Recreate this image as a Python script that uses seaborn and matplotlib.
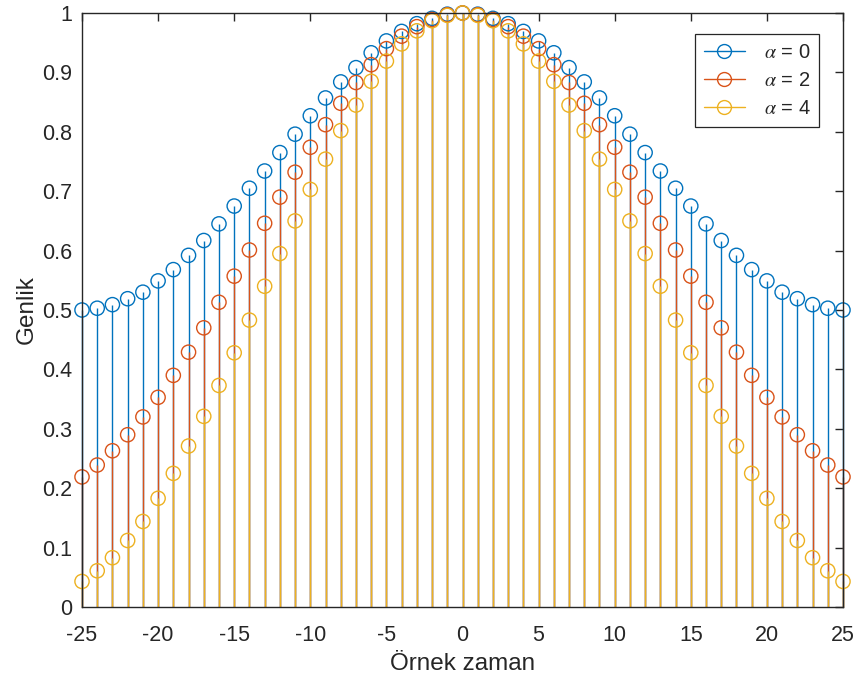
import numpy as np
import pandas as pd
import matplotlib
matplotlib.use("Agg")
import matplotlib.pyplot as plt
from matplotlib.lines import Line2D
from matplotlib.legend_handler import HandlerLine2D
import seaborn as sns

# Sample index
n = list(range(-25, 26))

# Window amplitudes for each alpha
amp_a0 = [0.500, 0.503, 0.509, 0.519, 0.530, 0.549, 0.568, 0.592, 0.617, 0.645,
          0.675, 0.705, 0.734, 0.765, 0.796, 0.827, 0.857, 0.884, 0.908, 0.933,
          0.953, 0.969, 0.982, 0.991, 0.998, 1.000, 0.998, 0.991, 0.982, 0.969,
          0.953, 0.933, 0.908, 0.884, 0.857, 0.827, 0.796, 0.765, 0.734, 0.705,
          0.675, 0.645, 0.617, 0.592, 0.568, 0.549, 0.530, 0.519, 0.509, 0.503,
          0.500]
amp_a2 = [0.219, 0.239, 0.263, 0.290, 0.320, 0.353, 0.390, 0.429, 0.470, 0.513,
          0.557, 0.601, 0.646, 0.690, 0.732, 0.774, 0.812, 0.848, 0.883, 0.913,
          0.940, 0.961, 0.977, 0.989, 0.997, 1.000, 0.997, 0.989, 0.977, 0.961,
          0.940, 0.913, 0.883, 0.848, 0.812, 0.774, 0.732, 0.690, 0.646, 0.601,
          0.557, 0.513, 0.470, 0.429, 0.390, 0.353, 0.320, 0.290, 0.263, 0.239,
          0.219]
amp_a4 = [0.043, 0.061, 0.083, 0.112, 0.144, 0.183, 0.225, 0.271, 0.321, 0.373,
          0.428, 0.483, 0.540, 0.595, 0.650, 0.703, 0.754, 0.802, 0.845, 0.885,
          0.919, 0.948, 0.970, 0.987, 0.996, 1.000, 0.996, 0.987, 0.970, 0.948,
          0.919, 0.885, 0.845, 0.802, 0.754, 0.703, 0.650, 0.595, 0.540, 0.483,
          0.428, 0.373, 0.321, 0.271, 0.225, 0.183, 0.144, 0.112, 0.083, 0.061,
          0.043]

labels = ["$\\alpha$ = 0", "$\\alpha$ = 2", "$\\alpha$ = 4"]
colors = ["#0072BD", "#D95319", "#EDB120"]

x_ticks = list(range(-25, 26, 5))
y_ticks = [0, 0.1, 0.2, 0.3, 0.4, 0.5, 0.6, 0.7, 0.8, 0.9, 1]
y_tick_labels = ["0", "0.1", "0.2", "0.3", "0.4", "0.5", "0.6", "0.7", "0.8", "0.9", "1"]

sns.set_style("white")
plt.rcParams["font.family"] = ["Liberation Sans", "DejaVu Sans"]
plt.rcParams["mathtext.fontset"] = "stix"

fig = plt.figure(figsize=(8.55, 6.84), dpi=100)
ax = fig.add_axes([82 / 855, 1 - 607 / 684, (843 - 82) / 855, (607 - 13) / 684])

series = pd.DataFrame({"n": n, "a0": amp_a0, "a2": amp_a2, "a4": amp_a4})

for col, color in zip(["a0", "a2", "a4"], colors):
    ax.vlines(series["n"], 0, series[col], colors=color, linewidth=1.0,
              clip_on=False, zorder=2)
    sns.scatterplot(data=series, x="n", y=col, ax=ax, color=color, s=105,
                    marker="o", linewidth=1.0, legend=False, zorder=3,
                    clip_on=False)
    ax.collections[-1].set_facecolor("none")
    ax.collections[-1].set_edgecolor(color)


class StemLegendHandler(HandlerLine2D):
    """Line ending in the open circle, as a stem marker."""

    def get_xdata(self, legend, xdescent, ydescent, width, height, fontsize):
        xdata = np.array([-xdescent, -xdescent + width])
        xmark = np.array([-xdescent + width])
        return xdata, xmark


handles = [Line2D([], [], color=c, linewidth=1.0, marker="o", markersize=10,
                  markerfacecolor="none", markeredgecolor=c, markeredgewidth=1.0)
           for c in colors]
leg = ax.legend(handles, labels, loc="upper right", bbox_to_anchor=(0.969, 0.965),
                handler_map={Line2D: StemLegendHandler()}, handlelength=2.0,
                numpoints=1, fontsize=14.5, frameon=True, fancybox=False,
                borderpad=0.45, labelspacing=0.45, handletextpad=0.95,
                borderaxespad=0.0)
leg.get_frame().set_edgecolor("#262626")
leg.get_frame().set_linewidth(0.9)
leg.get_frame().set_facecolor("white")
leg.get_frame().set_alpha(1.0)
leg.set_zorder(10)

ax.set_xlim(-25, 25)
ax.set_ylim(0, 1)
ax.set_xticks(x_ticks)
ax.set_xticklabels([str(t) for t in x_ticks])
ax.set_yticks(y_ticks)
ax.set_yticklabels(y_tick_labels)
ax.tick_params(direction="in", length=6, width=1.0, colors="#262626",
               labelsize=15.5, top=True, right=True)
ax.tick_params(axis="x", pad=13)
ax.tick_params(axis="y", pad=7)
for sp in ax.spines.values():
    sp.set_visible(True)
    sp.set_color("#262626")
    sp.set_linewidth(1.0)
    sp.set_zorder(5)

ax.set_xlabel("Örnek zaman", fontsize=17.5, color="#262626", labelpad=5)
ax.set_ylabel("Genlik", fontsize=17.5, color="#262626", labelpad=3)

fig.savefig("out.png", dpi=100)
